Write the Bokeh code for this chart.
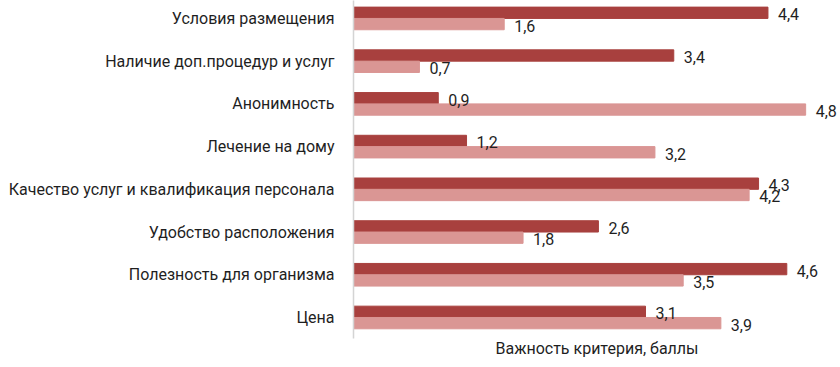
import numpy as np
from bokeh.plotting import figure
from bokeh.models import ColumnDataSource, Range1d, FixedTicker, LabelSet
from bokeh.core.properties import value
from bokeh.embed import file_html
from bokeh.resources import INLINE

categories = [
    "Условия размещения",
    "Наличие доп.процедур и услуг",
    "Анонимность",
    "Лечение на дому",
    "Качество услуг и квалификация персонала",
    "Удобство расположения",
    "Полезность для организма",
    "Цена",
]
series_dark = [4.4, 3.4, 0.9, 1.2, 4.3, 2.6, 4.6, 3.1]
series_light = [1.6, 0.7, 4.8, 3.2, 4.2, 1.8, 3.5, 3.9]
x_title = "Важность критерия, баллы"

DARK = "#A8403E"
LIGHT = "#DA9694"
FONT = "Roboto"
TEXT = "#1f1f1f"

n = len(categories)
pos = np.arange(n)[::-1].astype(float)
bar_h = 0.265
off = bar_h / 2

def fmt(v):
    return f"{v:.1f}".replace(".", ",")

src_d = ColumnDataSource(dict(y=pos + off, v=series_dark, lab=[fmt(v) for v in series_dark]))
src_l = ColumnDataSource(dict(y=pos - off, v=series_light, lab=[fmt(v) for v in series_light]))

p = figure(width=840, height=367, output_backend="svg", toolbar_location=None,
           x_range=Range1d(0, 5.17), y_range=Range1d(-0.492, 7.42),
           min_border_left=353, min_border_right=0, min_border_top=0, min_border_bottom=29)

p.hbar(y="y", right="v", left=0, height=bar_h, color=DARK, source=src_d)
p.hbar(y="y", right="v", left=0, height=bar_h, color=LIGHT, source=src_l)

for s in (src_d, src_l):
    p.add_layout(LabelSet(x="v", y="y", text="lab", source=s, x_offset=10, y_offset=-1.5,
                          text_font=value(FONT), text_font_size=value("16px"),
                          text_color=value(TEXT),
                          text_baseline=value("middle"), text_align=value("left")))

p.xgrid.visible = False
p.ygrid.visible = False
p.outline_line_color = None

p.yaxis.ticker = FixedTicker(ticks=list(pos))
p.yaxis.major_label_overrides = {float(y): c for y, c in zip(pos, categories)}
p.yaxis.major_tick_line_color = None
p.yaxis.minor_tick_line_color = None
p.yaxis.major_tick_out = 0
p.yaxis.major_tick_in = 0
p.yaxis.major_label_standoff = 19
p.yaxis.major_label_text_font = FONT
p.yaxis.major_label_text_font_size = "16px"
p.yaxis.major_label_text_color = TEXT
p.yaxis.axis_line_color = "#D4D4D4"
p.yaxis.axis_line_width = 1.5

p.xaxis.ticker = FixedTicker(ticks=[])
p.xaxis.axis_line_color = None
p.xaxis.major_tick_line_color = None
p.xaxis.minor_tick_line_color = None
p.xaxis.major_tick_out = 0
p.xaxis.major_label_standoff = 0
p.xaxis.axis_label = x_title
p.xaxis.axis_label_standoff = 0
p.xaxis.axis_label_text_font = FONT
p.xaxis.axis_label_text_font_size = "16px"
p.xaxis.axis_label_text_font_style = "normal"
p.xaxis.axis_label_text_color = TEXT

open("out.html", "w").write(file_html(p, INLINE))
